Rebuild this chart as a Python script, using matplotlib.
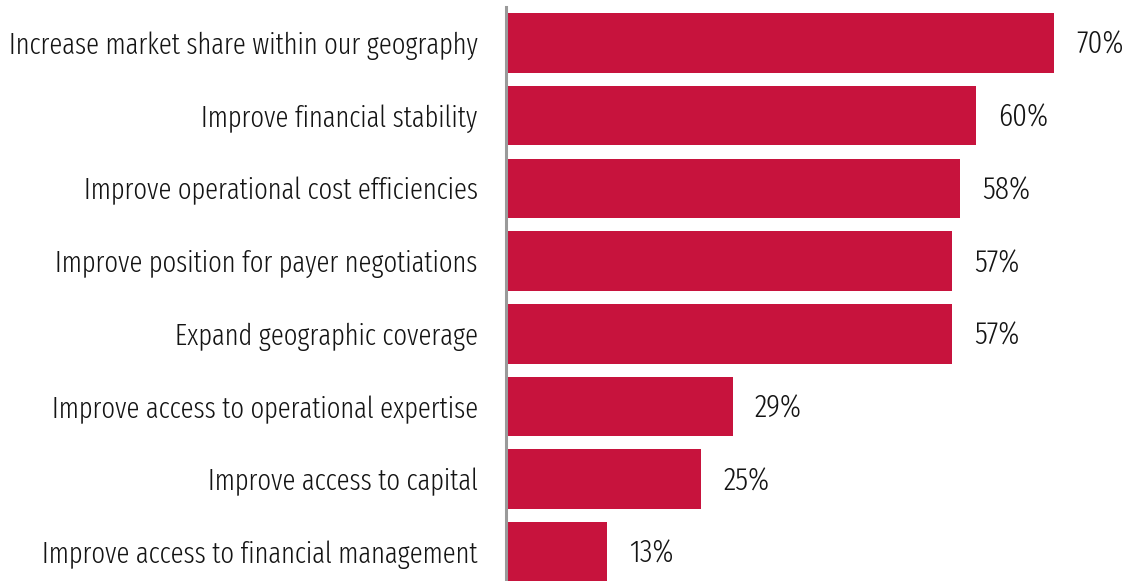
import matplotlib
matplotlib.use("Agg")
import matplotlib.pyplot as plt

categories = [
    "Increase market share within our geography",
    "Improve financial stability",
    "Improve operational cost efficiencies",
    "Improve position for payer negotiations",
    "Expand geographic coverage",
    "Improve access to operational expertise",
    "Improve access to capital",
    "Improve access to financial management",
]
values = [70, 60, 58, 57, 57, 29, 25, 13]

bar_color = "#C7133D"
axis_color = "#9A9A9A"
text_color = "#141414"

plt.rcParams["font.family"] = ["Fira Sans Extra Condensed", "DejaVu Sans"]
plt.rcParams["font.weight"] = 300

fig = plt.figure(figsize=(11.31, 5.81), dpi=100)
ax = fig.add_axes([505.5 / 1131, 0, 1 - 505.5 / 1131, 1])

# pick a font size so the longest label spans about 470 px
renderer = fig.canvas.get_renderer()
probe = fig.text(0, 0, categories[0], fontsize=20)
w = probe.get_window_extent(renderer).width
probe.remove()
fs = 20 * 470 / w

pos = list(range(len(categories)))
ax.barh(pos, values, height=0.82, color=bar_color, zorder=1)

for y, v in zip(pos, values):
    ax.text(v + 2.8, y + 0.03, f"{v}%", va="center", ha="left",
            fontsize=fs * 1.1, color=text_color)

ax.set_xlim(0, 79.8)
ax.set_ylim(7.40, -0.59)
ax.set_yticks(pos)
ax.set_yticklabels(categories, fontsize=fs, color=text_color)
ax.tick_params(axis="y", length=0, pad=20)
ax.set_xticks([])

for side in ["top", "right", "bottom"]:
    ax.spines[side].set_visible(False)
ax.spines["left"].set_color(axis_color)
ax.spines["left"].set_linewidth(2.2)
ax.spines["left"].set_bounds(-0.495, 7.40)
ax.spines["left"].set_zorder(3)

fig.savefig("out.png", dpi=100)
